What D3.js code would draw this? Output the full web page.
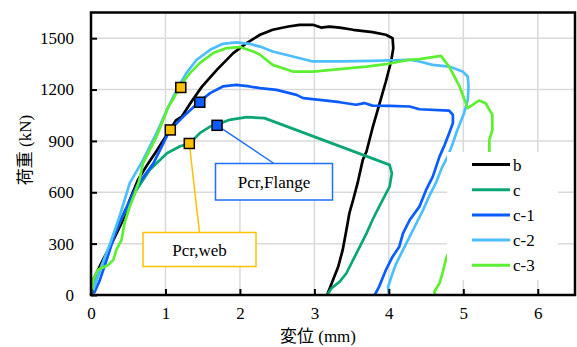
<!DOCTYPE html>
<html>
<head>
<meta charset="utf-8">
<script src="https://cdn.jsdelivr.net/npm/d3@7"></script>
<style>
    body { margin: 0; background: #fff; }
</style>
</head>
<body>
<div id="plot"></div>
<script>
// 荷重-変位 data (x: mm, y: kN)
var seriesNames = ["b", "c", "c-1", "c-2", "c-3"];
var seriesColors = ["#000000", "#0AA676", "#0A5CFF", "#4DBEFF", "#5CEF32"];

var curveB = [[0,0],[0.03,88],[0.16,205],[0.3,321],[0.43,438],[0.52,555],[0.63,672],[0.74,750],
    [0.86,828],[1.06,964],[1.14,1020],[1.22,1042],[1.35,1130],[1.49,1217],[1.69,1315],[1.91,1413],
    [2.09,1471],[2.27,1520],[2.44,1549],[2.65,1568],[2.8,1578],[2.98,1578],[3.09,1562],[3.2,1568],
    [3.34,1562],[3.52,1549],[3.78,1535],[3.96,1520],[4.05,1500],[4.06,1442],[4.03,1364],[3.96,1247],
    [3.87,1110],[3.78,974],[3.7,838],[3.65,789],[3.58,653],[3.52,555],[3.47,478],[3.43,380],
    [3.38,263],[3.32,165],[3.25,88],[3.18,10],[3.18,0]];

var curveC = [[0,0],[0.12,146],[0.26,292],[0.4,438],[0.61,614],[0.79,731],[1.02,828],[1.19,867],
    [1.33,887],[1.46,945],[1.6,984],[1.69,994],[1.86,1023],[2.09,1039],[2.33,1033],[4.01,760],
    [4.04,711],[4.01,633],[3.94,575],[3.87,516],[3.78,438],[3.7,360],[3.61,282],[3.52,205],
    [3.43,127],[3.34,78],[3.23,39],[3.18,6]];

var curveC1 = [[0.03,10],[0.05,19],[0.12,88],[0.21,205],[0.34,380],[0.46,497],[0.59,614],[0.61,633],
    [0.84,770],[1.06,964],[1.24,1042],[1.46,1130],[1.6,1179],[1.77,1218],[1.95,1227],[2.13,1218],
    [2.27,1208],[2.49,1198],[2.76,1169],[2.85,1150],[3.07,1140],[3.34,1126],[3.56,1111],[3.67,1121],
    [3.78,1106],[4.01,1105],[4.28,1101],[4.41,1085],[4.81,1077],[4.86,1052],[4.86,1004],[4.81,945],
    [4.75,877],[4.68,808],[4.59,691],[4.5,614],[4.41,516],[4.28,438],[4.19,360],[4.14,282],
    [4.05,224],[3.96,146],[3.87,49],[3.81,0]];

var curveC2 = [[0.03,29],[0.12,146],[0.26,304],[0.39,468],[0.52,653],[0.7,789],[0.88,945],[1.02,1081],
    [1.15,1198],[1.28,1296],[1.42,1374],[1.6,1432],[1.77,1467],[1.95,1475],[2.13,1467],[2.27,1451],
    [2.44,1422],[2.71,1393],[2.98,1364],[3.34,1364],[3.78,1368],[4.28,1374],[4.41,1364],[4.59,1344],
    [4.81,1334],[4.99,1305],[5.06,1276],[5.07,1218],[5.06,1140],[5.01,1062],[4.92,964],[4.86,887],
    [4.79,808],[4.72,750],[4.63,653],[4.54,575],[4.46,497],[4.37,419],[4.28,341],[4.19,263],
    [4.1,185],[4.05,127],[3.99,49],[4.0,0]];

var curveC3 = [[0,0],[0.004,10],[0.03,88],[0.09,146],[0.23,175],[0.3,205],[0.34,263],[0.41,321],
    [0.45,419],[0.52,516],[0.59,594],[0.65,672],[0.7,770],[0.88,925],[1.04,1101],[1.1,1140],
    [1.19,1218],[1.33,1296],[1.46,1354],[1.64,1413],[1.82,1442],[2.0,1448],[2.18,1422],[2.27,1403],
    [2.44,1344],[2.71,1305],[2.98,1305],[3.34,1319],[3.7,1334],[3.96,1348],[4.28,1374],[4.41,1378],
    [4.7,1397],[4.81,1334],[4.95,1218],[5.06,1091],[5.21,1136],[5.3,1120],[5.39,1052],[5.39,964],
    [5.35,906],[5.35,838],[4.77,214],[4.72,127],[4.68,68],[4.61,19],[4.63,0]];

var curves = [curveB, curveC, curveC1, curveC2, curveC3];

// Pcr markers
var webPoints = [[1.206,1212],[1.065,964],[1.32,885]];
var flangePoints = [[1.461,1126],[1.693,991]];

var xTicks = [0, 1, 2, 3, 4, 5, 6];
var yTicks = [0, 300, 600, 900, 1200, 1500];

var serif = "'Liberation Serif', 'Times New Roman', 'Noto Sans CJK JP', serif";

var width = 577, height = 347;
var margin = {top: 12.5, right: 2, bottom: 52, left: 91};

var svg = d3.select("#plot")
    .append("svg")
    .attr("width", width)
    .attr("height", height)
    .attr("font-family", serif);

var x = d3.scaleLinear().domain([0, 6.5]).range([margin.left, width - margin.right]);
var y = d3.scaleLinear().domain([0, 1650]).range([height - margin.bottom, margin.top]);

// grid
svg.append("g")
    .selectAll("line")
    .data(xTicks.slice(1))
    .enter().append("line")
    .attr("x1", function(d) { return x(d); })
    .attr("x2", function(d) { return x(d); })
    .attr("y1", y(0))
    .attr("y2", y(1650))
    .style("stroke", "#d9d9d9")
    .style("stroke-width", 1.5);

svg.append("g")
    .selectAll("line")
    .data(yTicks.slice(1))
    .enter().append("line")
    .attr("x1", x(0))
    .attr("x2", x(6.5))
    .attr("y1", function(d) { return y(d); })
    .attr("y2", function(d) { return y(d); })
    .style("stroke", "#d9d9d9")
    .style("stroke-width", 1.5);

var line = d3.line()
    .x(function(d) { return x(d[0]); })
    .y(function(d) { return y(d[1]); });

svg.selectAll("path.curve")
    .data(curves)
    .enter().append("path")
    .attr("class", "curve")
    .attr("d", line)
    .style("fill", "none")
    .style("stroke", function(d, i) { return seriesColors[i]; })
    .style("stroke-width", 2.7)
    .style("stroke-linejoin", "round");

// leader lines + annotation boxes
function annotation(text, point, box, color)
{
    svg.append("line")
        .attr("x1", x(point[0]))
        .attr("y1", y(point[1]))
        .attr("x2", box.cx)
        .attr("y2", box.y)
        .style("stroke", color)
        .style("stroke-width", 1.5);
    svg.append("rect")
        .attr("x", box.cx - box.w / 2)
        .attr("y", box.y)
        .attr("width", box.w)
        .attr("height", box.h)
        .style("fill", "#fff")
        .style("stroke", color)
        .style("stroke-width", 1.5);
    svg.append("text")
        .attr("x", box.cx)
        .attr("y", box.y + box.h / 2 + 6)
        .attr("text-anchor", "middle")
        .attr("font-size", 17)
        .text(text);
}

annotation("Pcr,Flange", flangePoints[1], {cx: 274, y: 163.5, w: 117, h: 36.5}, "#1F6FFF");
annotation("Pcr,web", webPoints[2], {cx: 199.5, y: 232.5, w: 113, h: 34}, "#FFC000");

function markers(points, color)
{
    svg.append("g")
        .selectAll("rect")
        .data(points)
        .enter().append("rect")
        .attr("x", function(d) { return x(d[0]) - 5; })
        .attr("y", function(d) { return y(d[1]) - 5; })
        .attr("width", 10)
        .attr("height", 10)
        .style("fill", color)
        .style("stroke", "#000")
        .style("stroke-width", 1.5);
}
markers(webPoints, "#FFC000");
markers(flangePoints, "#0A5CFF");

// legend
var legend = svg.append("g");
legend.append("rect")
    .attr("x", 447)
    .attr("y", 152)
    .attr("width", 111)
    .attr("height", 128)
    .style("fill", "#fff");

var entries = legend.selectAll("g.entry")
    .data(seriesNames)
    .enter().append("g")
    .attr("class", "entry")
    .attr("transform", function(d, i) { return "translate(0," + (164.5 + i * 25.2) + ")"; });

entries.append("line")
    .attr("x1", 472)
    .attr("x2", 510)
    .style("stroke", function(d, i) { return seriesColors[i]; })
    .style("stroke-width", 3);

entries.append("text")
    .attr("x", 513)
    .attr("y", 6)
    .attr("font-size", 17)
    .text(function(d) { return d; });

// axes
var xAxis = d3.axisBottom(x).tickValues(xTicks).tickSize(-6).tickPadding(12).tickFormat(d3.format("d"));
var yAxis = d3.axisLeft(y).tickValues(yTicks).tickSize(-6).tickPadding(17).tickFormat(d3.format("d"));

var gx = svg.append("g")
    .attr("transform", "translate(0," + y(0) + ")")
    .call(xAxis)
    .attr("font-family", serif)
    .attr("font-size", 17);
gx.select(".domain").remove();
gx.selectAll(".tick line").attr("stroke", "#000").attr("stroke-width", 2);
gx.selectAll(".tick text").attr("fill", "#000");

var gy = svg.append("g")
    .attr("transform", "translate(" + x(0) + ",0)")
    .call(yAxis)
    .attr("font-family", serif)
    .attr("font-size", 17);
gy.select(".domain").remove();
gy.selectAll(".tick line").attr("stroke", "#000").attr("stroke-width", 2);
gy.selectAll(".tick text").attr("fill", "#000");

// frame
svg.append("rect")
    .attr("x", x(0))
    .attr("y", y(1650))
    .attr("width", x(6.5) - x(0))
    .attr("height", y(0) - y(1650))
    .style("fill", "none")
    .style("stroke", "#000")
    .style("stroke-width", 2.5);

svg.append("text")
    .attr("x", 318)
    .attr("y", 342)
    .attr("text-anchor", "middle")
    .attr("font-size", 17)
    .text("変位 (mm)");

svg.append("text")
    .attr("transform", "translate(31,150) rotate(-90)")
    .attr("text-anchor", "middle")
    .attr("font-size", 17)
    .text("荷重 (kN)");
</script>
</body>
</html>
